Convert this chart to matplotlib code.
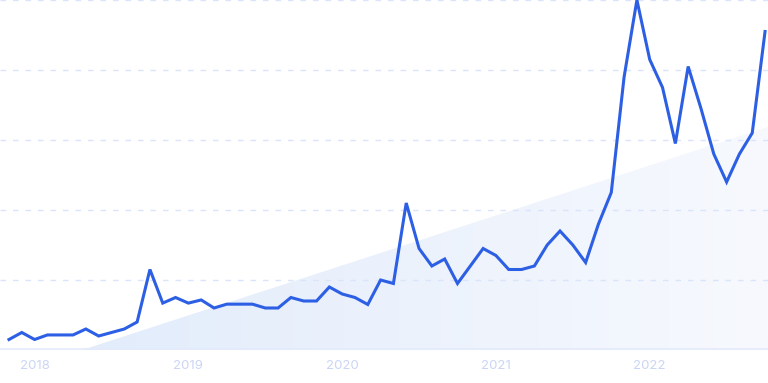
import matplotlib
matplotlib.use("Agg")
import matplotlib.pyplot as plt
import numpy as np
from matplotlib.patches import Polygon
from matplotlib.colors import LinearSegmentedColormap

values = [3, 5, 3, 4.3, 4.3, 4.3, 6, 4, 5, 6, 8, 23, 13.4, 15, 13.4, 14.3, 12, 13.1, 13.1, 13.1,
          12, 12, 15, 14, 14, 18, 16, 15, 13, 20, 19, 42, 29, 24, 26, 19, 24, 29, 27, 23,
          23, 24, 30, 34, 30, 25, 36, 45, 78, 100, 83, 75, 59, 81, 69, 56, 48, 56, 62, 91]
tick_labels = ["2018", "2019", "2020", "2021", "2022"]
tick_index = [2, 14, 26, 38, 50]
grid_levels = [20, 40, 60, 80, 100]

W, H = 768, 383
fig = plt.figure(figsize=(W / 100, H / 100), dpi=100)
ax = fig.add_axes([0, 33 / H, 1, 1 - 33 / H])
x = np.arange(len(values))
xmin, xmax = -0.70, 59.23
ax.set_xlim(xmin, xmax)
ax.set_ylim(0, 100)

def px_to_data(px, py):
    dx = xmin + px / W * (xmax - xmin)
    dy = (350 - py) / 350 * 100
    return dx, dy

# gradient triangle
p1 = px_to_data(82, 350)
p2 = px_to_data(768, 350)
p3 = px_to_data(768, 127)
tri = Polygon([p1, p2, p3], closed=True, facecolor="none", edgecolor="none")
ax.add_patch(tri)
cmap = LinearSegmentedColormap.from_list("g", ["#e2ecfb", "#f7f9fe"])
grad = np.linspace(0, 1, 256).reshape(1, -1)
im = ax.imshow(grad, cmap=cmap, extent=[p1[0], xmax, 0, p3[1]], aspect="auto", zorder=0.5)
im.set_clip_path(tri)

for g in grid_levels:
    ax.axhline(g, color="#dae4fb", lw=1.0, dashes=(4, 5), zorder=1, clip_on=False)
ax.axhline(0.2, color="#e3eafb", lw=1.2, zorder=1)

ax.plot(x, values, color="#2c5fe4", lw=2.2, solid_joinstyle="miter", zorder=3, clip_on=False)

for i, lab in zip(tick_index, tick_labels):
    ax.text(i, -4.6, lab, ha="center", va="center", color="#cbd5f4", fontsize=9.5,
            family="Inter")

ax.axis("off")
fig.savefig("out.png", dpi=100)
